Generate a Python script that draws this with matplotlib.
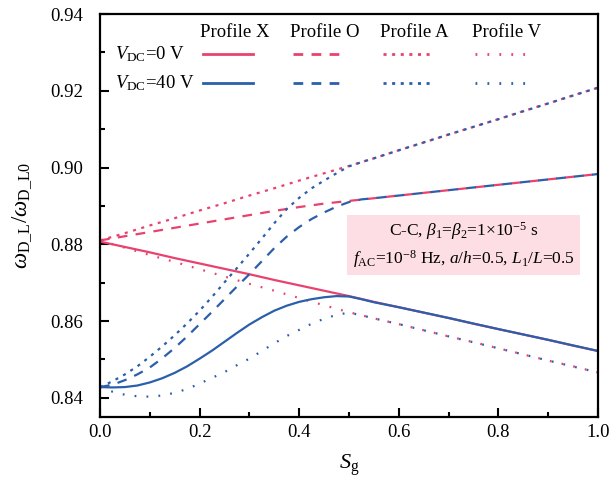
import matplotlib
matplotlib.use("Agg")
import matplotlib.pyplot as plt
from matplotlib.ticker import MultipleLocator, FormatStrFormatter

plt.rcParams['font.family'] = ['Liberation Serif', 'DejaVu Serif']
plt.rcParams['mathtext.fontset'] = 'custom'
plt.rcParams['mathtext.rm'] = 'Liberation Serif'
plt.rcParams['mathtext.it'] = 'Liberation Serif:italic'
plt.rcParams['mathtext.bf'] = 'Liberation Serif:bold'
plt.rcParams['lines.scale_dashes'] = False

# Sg 取值（V_DC=0 V）
sg = [0.00, 0.05, 0.10, 0.15, 0.20, 0.25, 0.30, 0.35, 0.40, 0.45, 0.50,
      0.55, 0.60, 0.65, 0.70, 0.75, 0.80, 0.85, 0.90, 0.95, 1.00]

# V_DC = 0 V
x_0v = [0.8807, 0.8793, 0.8779, 0.8764, 0.8750, 0.8736, 0.8722, 0.8707, 0.8693, 0.8679, 0.8665,
        0.8650, 0.8636, 0.8622, 0.8608, 0.8593, 0.8579, 0.8565, 0.8551, 0.8536, 0.8522]
o_0v = [0.8810, 0.8821, 0.8832, 0.8843, 0.8854, 0.8865, 0.8876, 0.8887, 0.8897, 0.8906, 0.8913,
        0.8920, 0.8927, 0.8934, 0.8941, 0.8948, 0.8955, 0.8962, 0.8969, 0.8976, 0.8983]
a_0v = [0.8810, 0.8829, 0.8849, 0.8868, 0.8888, 0.8907, 0.8927, 0.8946, 0.8966, 0.8985, 0.9004,
        0.9024, 0.9045, 0.9065, 0.9086, 0.9106, 0.9126, 0.9147, 0.9167, 0.9188, 0.9208]
v_0v = [0.8810, 0.8791, 0.8772, 0.8754, 0.8735, 0.8716, 0.8697, 0.8679, 0.8660, 0.8641, 0.8623,
        0.8607, 0.8592, 0.8576, 0.8560, 0.8545, 0.8529, 0.8513, 0.8497, 0.8482, 0.8466]

# Sg 取值（V_DC=40 V，前段加密）
sg_b = [0.000, 0.025, 0.050, 0.075, 0.100, 0.125, 0.150, 0.175, 0.200, 0.225, 0.250, 0.275,
        0.300, 0.325, 0.350, 0.375, 0.400, 0.425, 0.450, 0.475, 0.500, 0.525, 0.550,
        0.600, 0.700, 0.800, 0.900, 1.000]

# V_DC = 40 V
x_40v = [0.8428, 0.8427, 0.8428, 0.8432, 0.8440, 0.8451, 0.8465, 0.8482, 0.8502, 0.8523, 0.8546, 0.8569,
         0.8591, 0.8610, 0.8627, 0.8640, 0.8650, 0.8657, 0.8662, 0.8665, 0.8664, 0.8657, 0.8649,
         0.8636, 0.8608, 0.8579, 0.8551, 0.8522]
o_40v = [0.8428, 0.8434, 0.8446, 0.8461, 0.8479, 0.8503, 0.8530, 0.8560, 0.8592, 0.8624, 0.8657, 0.8690,
         0.8722, 0.8756, 0.8790, 0.8820, 0.8845, 0.8866, 0.8883, 0.8898, 0.8910, 0.8917, 0.8920,
         0.8927, 0.8941, 0.8955, 0.8969, 0.8983]
a_40v = [0.8428, 0.8443, 0.8461, 0.8482, 0.8507, 0.8534, 0.8563, 0.8594, 0.8627, 0.8663, 0.8701, 0.8738,
         0.8776, 0.8815, 0.8855, 0.8892, 0.8921, 0.8946, 0.8966, 0.8985, 0.9003, 0.9014, 0.9024,
         0.9045, 0.9086, 0.9126, 0.9167, 0.9208]
v_40v = [0.8428, 0.8416, 0.8408, 0.8404, 0.8403, 0.8406, 0.8413, 0.8423, 0.8437, 0.8452, 0.8467, 0.8485,
         0.8502, 0.8522, 0.8542, 0.8561, 0.8577, 0.8593, 0.8606, 0.8616, 0.8622, 0.8615, 0.8607,
         0.8592, 0.8560, 0.8529, 0.8497, 0.8466]

profiles = ['Profile X', 'Profile O', 'Profile A', 'Profile V']
row_labels = [r'$V_{\mathrm{DC}}$=0 V', r'$V_{\mathrm{DC}}$=40 V']

pink = '#E8426F'
blue = '#2B5FAC'
styles = ['-', (0, (7.0, 6.0)), (0, (2.2, 4.0)), (0, (1.3, 7.3))]
lw = 1.6

fig = plt.figure(figsize=(6.1, 4.88), dpi=100)
ax = fig.add_axes([100 / 610, 71 / 488, 498 / 610, 403 / 488])

for ys, ls in zip([x_0v, o_0v, a_0v, v_0v], styles):
    ax.plot(sg, ys, color=pink, ls=ls, lw=lw, dash_capstyle='butt')
for ys, ls in zip([x_40v, o_40v, a_40v, v_40v], styles):
    ax.plot(sg_b, ys, color=blue, ls=ls, lw=lw, dash_capstyle='butt')

ax.set_xlim(0, 1)
ax.set_ylim(0.835, 0.94)
ax.xaxis.set_major_locator(MultipleLocator(0.2))
ax.xaxis.set_minor_locator(MultipleLocator(0.1))
ax.yaxis.set_major_locator(MultipleLocator(0.02))
ax.yaxis.set_minor_locator(MultipleLocator(0.01))
ax.xaxis.set_major_formatter(FormatStrFormatter('%.1f'))
ax.yaxis.set_major_formatter(FormatStrFormatter('%.2f'))
ax.tick_params(which='both', direction='in', top=False, right=False,
               width=1.5, labelsize=13.5)
ax.tick_params(which='major', length=6.5)
ax.tick_params(which='minor', length=3.5)
ax.tick_params(axis='y', pad=12)
ax.tick_params(axis='x', pad=5)
for s in ax.spines.values():
    s.set_linewidth(1.6)

ax.set_xlabel(r'$S_{\mathrm{g}}$', fontsize=16, labelpad=8)
ax.set_ylabel(r'$\omega_{\mathrm{D\_L}}/\omega_{\mathrm{D\_L0}}$', fontsize=16.5, labelpad=12)

# 图例表格
col_x = [0.207, 0.388, 0.568, 0.753]
row_y = [0.901, 0.829]
for cx, name in zip(col_x, profiles):
    ax.text(cx - 0.006, 0.953, name, transform=ax.transAxes, fontsize=13.5,
            ha='left', va='center')
for ry, lab, c in zip(row_y, row_labels, [pink, blue]):
    ax.text(0.030, ry, lab, transform=ax.transAxes, fontsize=13.5,
            ha='left', va='center')
    for cx, ls in zip(col_x, styles):
        ax.plot([cx, cx + 0.100], [ry, ry], transform=ax.transAxes, color=c,
                ls=ls, lw=lw + 0.4, dash_capstyle='butt', clip_on=False)

ax.text(0.730, 0.427,
        'C-C, $\\beta_1$=$\\beta_2$=1$\\times$10$^{-5}$ s\n'
        '$f_{\\mathrm{AC}}$=10$^{-8}$ Hz, $a/h$=0.5, $L_1/L$=0.5',
        transform=ax.transAxes, fontsize=12.5, ha='center', va='center',
        linespacing=1.35,
        bbox=dict(boxstyle='square,pad=0.3', fc='#FDDEE4', ec='none'))

fig.savefig('out.png', dpi=100)
